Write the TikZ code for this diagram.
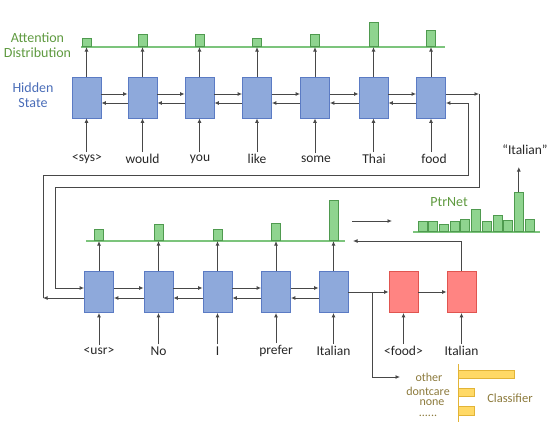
\documentclass[tikz,border=0pt]{standalone}
\usepackage{fontspec}
\setmainfont{Carlito}
\usetikzlibrary{positioning,arrows.meta,calc}
\definecolor{dstBlueLine}{HTML}{5B7BC4}
\definecolor{dstBlueFill}{HTML}{8EA9DB}
\definecolor{dstBlueText}{HTML}{4A6DB8}
\definecolor{dstRedLine}{HTML}{E05550}
\definecolor{dstRedFill}{HTML}{FF8482}
\definecolor{dstGreenLine}{HTML}{4F9A4F}
\definecolor{dstGreenFill}{HTML}{8FD48F}
\definecolor{dstGreenAxis}{HTML}{7CC47C}
\definecolor{dstGreenText}{HTML}{5F9A40}
\definecolor{dstYellowLine}{HTML}{E2B437}
\definecolor{dstYellowFill}{HTML}{FFD966}
\definecolor{dstOliveText}{HTML}{8C7A3C}
\definecolor{dstGreyLine}{HTML}{484848}

\begin{document}
\begin{tikzpicture}[
    x=1pt, y=-1pt,
    >=Latex,
    arrow/.style={
        -{Latex[length=4.5pt,width=4pt]},
        line width=0.9pt,
        dstGreyLine,
    },
    line/.style={
        line width=0.9pt,
        dstGreyLine,
    },
    hstate/.style={
        rectangle,
        minimum width=29pt,
        minimum height=41pt,
        inner sep=0pt,
        draw=dstBlueLine,
        fill=dstBlueFill,
        line width=0.8pt,
    },
    hstate_dec/.style={hstate, draw=dstRedLine, fill=dstRedFill},
    bar_attn/.style={
        rectangle,
        anchor=south,
        minimum width=9pt,
        inner sep=0pt,
        draw=dstGreenLine,
        fill=dstGreenFill,
        line width=0.7pt,
    },
    bar_cls/.style={
        rectangle,
        anchor=west,
        minimum height=8.5pt,
        inner sep=0pt,
        draw=dstYellowLine,
        fill=dstYellowFill,
        line width=0.7pt,
    },
    axis/.style={dstGreenAxis, line width=1.1pt},
    word/.style={font=\fontsize{13.5}{15}\selectfont, text=black!85, inner sep=2pt},
    small/.style={font=\fontsize{12}{13}\selectfont, text=dstOliveText, inner sep=1pt},
    label/.style={font=\fontsize{14}{15}\selectfont, align=center},
]
    \useasboundingbox (0,0) rectangle (553,436);

    % Labels
    \node[label, text=dstGreenText] (lattn) at (37.5,45.5) {Attention\\Distribution};
    \node[label, text=dstBlueText] (lhid) at (33,95.5) {Hidden\\State};

    % === System turn ===
    \node[hstate] (h1) at (86.5,97.5) {};
    \node[hstate] (h2) at (142.5,97.5) {};
    \node[hstate] (h3) at (199.5,97.5) {};
    \node[hstate] (h4) at (257,97.5) {};
    \node[hstate] (h5) at (315,97.5) {};
    \node[hstate] (h6) at (373.5,97.5) {};
    \node[hstate] (h7) at (431,97.5) {};

    \node[word] (w1) at (87,159) {<sys>};
    \node[word] (w2) at (142.5,159) {would};
    \node[word] (w3) at (200,159) {you};
    \node[word] (w4) at (257,159) {like};
    \node[word] (w5) at (316,159) {some};
    \node[word] (w6) at (374,159) {Thai};
    \node[word] (w7) at (434,159) {food};

    \coordinate (ax1a) at (81,47);
    \coordinate (ax1b) at (445,47);
    \draw[axis] (ax1a) -- (ax1b);

    \node[bar_attn, minimum height=8pt]  (a1) at (h1.center |- ax1a) {};
    \node[bar_attn, minimum height=12pt] (a2) at (h2.center |- ax1a) {};
    \node[bar_attn, minimum height=12pt] (a3) at (h3.center |- ax1a) {};
    \node[bar_attn, minimum height=8pt]  (a4) at (h4.center |- ax1a) {};
    \node[bar_attn, minimum height=12pt] (a5) at (h5.center |- ax1a) {};
    \node[bar_attn, minimum height=24pt] (a6) at (h6.center |- ax1a) {};
    \node[bar_attn, minimum height=16pt] (a7) at (h7.center |- ax1a) {};

    \draw[arrow] (h1) -- (a1.south);
    \draw[arrow] (h2) -- (a2.south);
    \draw[arrow] (h3) -- (a3.south);
    \draw[arrow] (h4) -- (a4.south);
    \draw[arrow] (h5) -- (a5.south);
    \draw[arrow] (h6) -- (a6.south);
    \draw[arrow] (h7) -- (a7.south);

    \draw[arrow] (h1.south |- w1.north) -- (h1.south);
    \draw[arrow] (h2.south |- w2.north) -- (h2.south);
    \draw[arrow] (h3.south |- w3.north) -- (h3.south);
    \draw[arrow] (h4.south |- w4.north) -- (h4.south);
    \draw[arrow] (h5.south |- w5.north) -- (h5.south);
    \draw[arrow] (h6.south |- w6.north) -- (h6.south);
    \draw[arrow] (h7.south |- w7.north) -- (h7.south);

    % forward / backward
    \draw[arrow] (h1.east |- 0,94) -- (h2.west |- 0,94);
    \draw[arrow] (h2.east |- 0,94) -- (h3.west |- 0,94);
    \draw[arrow] (h3.east |- 0,94) -- (h4.west |- 0,94);
    \draw[arrow] (h4.east |- 0,94) -- (h5.west |- 0,94);
    \draw[arrow] (h5.east |- 0,94) -- (h6.west |- 0,94);
    \draw[arrow] (h6.east |- 0,94) -- (h7.west |- 0,94);
    \draw[arrow] (h2.west |- 0,103) -- (h1.east |- 0,103);
    \draw[arrow] (h3.west |- 0,103) -- (h2.east |- 0,103);
    \draw[arrow] (h4.west |- 0,103) -- (h3.east |- 0,103);
    \draw[arrow] (h5.west |- 0,103) -- (h4.east |- 0,103);
    \draw[arrow] (h6.west |- 0,103) -- (h5.east |- 0,103);
    \draw[arrow] (h7.west |- 0,103) -- (h6.east |- 0,103);

    % === User turn ===
    \node[hstate] (g1) at (99,292) {};
    \node[hstate] (g2) at (158.5,292) {};
    \node[hstate] (g3) at (217.5,292) {};
    \node[hstate] (g4) at (276,292) {};
    \node[hstate] (g5) at (333.5,292) {};

    \node[word] (u1) at (99,351) {<usr>};
    \node[word] (u2) at (158.5,351) {No};
    \node[word] (u3) at (217.5,351) {I};
    \node[word] (u4) at (276,351) {prefer};
    \node[word] (u5) at (333.5,351) {Italian};

    \coordinate (ax2a) at (86,241);
    \coordinate (ax2b) at (345,241);
    \draw[axis] (ax2a) -- (ax2b);

    \node[bar_attn, minimum height=11pt] (b1) at (g1.center |- ax2a) {};
    \node[bar_attn, minimum height=16pt] (b2) at (g2.center |- ax2a) {};
    \node[bar_attn, minimum height=11pt] (b3) at (g3.center |- ax2a) {};
    \node[bar_attn, minimum height=17pt] (b4) at (g4.center |- ax2a) {};
    \node[bar_attn, minimum height=40pt] (b5) at (g5.center |- ax2a) {};

    \draw[arrow] (g1) -- (b1.south);
    \draw[arrow] (g2) -- (b2.south);
    \draw[arrow] (g3) -- (b3.south);
    \draw[arrow] (g4) -- (b4.south);
    \draw[arrow] (g5) -- (b5.south);

    \draw[arrow] (g1.south |- u1.north) -- (g1.south);
    \draw[arrow] (g2.south |- u2.north) -- (g2.south);
    \draw[arrow] (g3.south |- u3.north) -- (g3.south);
    \draw[arrow] (g4.south |- u4.north) -- (g4.south);
    \draw[arrow] (g5.south |- u5.north) -- (g5.south);

    \draw[arrow] (g1.east |- 0,288) -- (g2.west |- 0,288);
    \draw[arrow] (g2.east |- 0,288) -- (g3.west |- 0,288);
    \draw[arrow] (g3.east |- 0,288) -- (g4.west |- 0,288);
    \draw[arrow] (g4.east |- 0,288) -- (g5.west |- 0,288);
    \draw[arrow] (g2.west |- 0,298) -- (g1.east |- 0,298);
    \draw[arrow] (g3.west |- 0,298) -- (g2.east |- 0,298);
    \draw[arrow] (g4.west |- 0,298) -- (g3.east |- 0,298);
    \draw[arrow] (g5.west |- 0,298) -- (g4.east |- 0,298);

    % Links between the two turns
    \coordinate (fwd1) at (479,94);
    \coordinate (fwd2) at (55,187);
    \coordinate (bwd1) at (43,298);
    \coordinate (bwd2) at (468,175);
    \draw[arrow] (h7.east |- fwd1) -- (fwd1);
    \draw[arrow] (fwd1) |- (fwd2) |- (g1.west |- 0,288);
    \draw[arrow] (g1.west |- bwd1) -- (bwd1);
    \draw[arrow] (bwd1) |- (bwd2) |- (h7.east |- 0,103);

    % === Slot decoder ===
    \node[hstate_dec] (d1) at (403.5,292) {};
    \node[hstate_dec] (d2) at (461.5,292) {};
    \node[word] (v1) at (403.5,351) {<food>};
    \node[word] (v2) at (461.5,351) {Italian};

    \draw[arrow] (g5) -- (d1);
    \draw[arrow] (d1) -- (d2);
    \draw[arrow] (d1.south |- v1.north) -- (d1.south);
    \draw[arrow] (d2.south |- v2.north) -- (d2.south);

    \coordinate (fb) at (353,241);
    \draw[arrow] (d2.north) |- (fb);

    % PtrNet
    \coordinate (ptrin) at (352,221);
    \coordinate (ptrout) at (392,221);
    \draw[arrow] (ptrin) -- (ptrout);

    \coordinate (ax3a) at (413,232);
    \coordinate (ax3b) at (540,232);
    \draw[axis] (ax3a) -- (ax3b);
    \node[bar_attn, minimum height=10pt] (p1)  at (422.5,232) {};
    \node[bar_attn, minimum height=10pt] (p2)  at (433.2,232) {};
    \node[bar_attn, minimum height=7pt]  (p3)  at (443.9,232) {};
    \node[bar_attn, minimum height=10pt] (p4)  at (454.6,232) {};
    \node[bar_attn, minimum height=12pt] (p5)  at (465.3,232) {};
    \node[bar_attn, minimum height=22pt] (p6)  at (476,232) {};
    \node[bar_attn, minimum height=10pt] (p7)  at (486.7,232) {};
    \node[bar_attn, minimum height=16pt] (p8)  at (497.4,232) {};
    \node[bar_attn, minimum height=11pt] (p9)  at (508.1,232) {};
    \node[bar_attn, minimum height=39pt] (p10) at (518.8,232) {};
    \node[bar_attn, minimum height=12pt] (p11) at (529.5,232) {};

    \node[label, text=dstGreenText] (lptr) at (449,202) {PtrNet};
    \node[word] (quote) at (525,150) {“Italian”};
    \draw[arrow] (p10.north) -- (p10.north |- 0,167);

    % Classifier
    \coordinate (cls) at (400,377);
    \draw[arrow] (g5.east -| 372,0) |- (cls);

    \coordinate (clsa) at (458,364);
    \coordinate (clsb) at (458,422);
    \draw[dstYellowLine, line width=1pt] (clsa) -- (clsb);
    \node[bar_cls, minimum width=56pt] (c1) at (458,374.5) {};
    \node[bar_cls, minimum width=16pt] (c2) at (458,392.5) {};
    \node[bar_cls, minimum width=16pt] (c3) at (458,411) {};

    \node[small] (o1) at (429,377) {other};
    \node[small] (o2) at (428,391) {dontcare};
    \node[small] (o3) at (432,403) {none};
    \node[small] (o4) at (428,416) {......};
    \node[small, font=\fontsize{12.5}{13}\selectfont] (lcls) at (510,398) {Classifier};

\end{tikzpicture}
\end{document}
